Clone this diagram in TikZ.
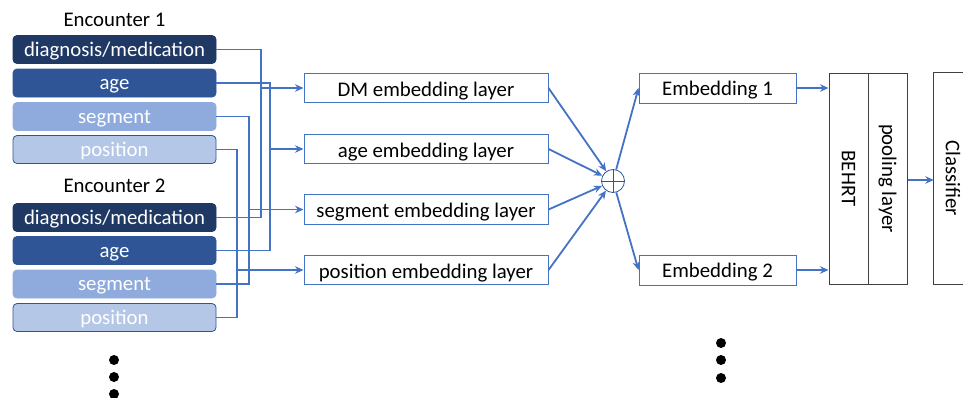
\documentclass[tikz,border=0pt]{standalone}
\usepackage{fontspec}
\setmainfont{Carlito}
\usetikzlibrary{arrows.meta}
\definecolor{cdm}{HTML}{203864}
\definecolor{cage}{HTML}{2F5597}
\definecolor{cseg}{HTML}{8FAADC}
\definecolor{cpos}{HTML}{B4C7E7}
\definecolor{wireblue}{HTML}{4472C4}
\definecolor{gline}{HTML}{404040}
\begin{document}
\begin{tikzpicture}[x=1pt,y=-1pt,
  bigfont/.style={font=\fontsize{20.8}{23}\selectfont},
  inbox/.style={bigfont, rounded corners=4pt, minimum width=203pt, minimum height=28pt, inner sep=0pt, text height=17pt, text depth=3.5pt, text=white, line width=0.8pt},
  dmbox/.style={inbox, fill=cdm, draw=cdm},
  agebox/.style={inbox, fill=cage, draw=cage},
  segbox/.style={inbox, fill=cseg, draw=cseg},
  posbox/.style={inbox, fill=cpos, draw=cage},
  enctext/.style={bigfont, inner sep=0pt},
  layerbox/.style={bigfont, draw=wireblue, line width=1pt, minimum width=244pt, minimum height=29.5pt, inner sep=0pt, text height=19pt, text depth=3pt},
  embbox/.style={bigfont, draw=wireblue, line width=1pt, minimum width=157pt, minimum height=30pt, inner sep=0pt, text height=18pt, text depth=3.5pt},
  gbox/.style={bigfont, draw=gline, line width=1pt, minimum width=39pt, minimum height=211pt, inner sep=0pt},
  wire/.style={draw=wireblue, line width=1.8pt},
  arr/.style={wire, -{Stealth[length=8.5pt,width=7.5pt]}},
  dot/.style={circle, fill=black, inner sep=0pt, minimum size=10pt}
]
\useasboundingbox (0,0) rectangle (963,397);

% Encounter labels
\node[enctext] (enc1) at (114.5,20) {Encounter 1};
\node[enctext] (enc2) at (114.5,186) {Encounter 2};

% Input boxes
\node[dmbox]  (dm1)  at (114.5,49.5)  {diagnosis/medication};
\node[agebox] (age1) at (114.5,83)    {age};
\node[segbox] (seg1) at (114.5,116.5) {segment};
\node[posbox] (pos1) at (114.5,149.5) {position};
\node[dmbox]  (dm2)  at (114.5,217.5) {diagnosis/medication};
\node[agebox] (age2) at (114.5,250.5) {age};
\node[segbox] (seg2) at (114.5,284)   {segment};
\node[posbox] (pos2) at (114.5,317.5) {position};

% Embedding layers
\node[layerbox] (dml)  at (426,88)    {DM embedding layer};
\node[layerbox] (agel) at (426,149)   {age embedding layer};
\node[layerbox] (segl) at (426,209.5) {segment embedding layer};
\node[layerbox] (posl) at (426,270)   {position embedding layer};

% Bus junctions
\coordinate (bdm)  at (261,88);
\coordinate (bage) at (270,149);
\coordinate (bseg) at (249,209.5);
\coordinate (bpos) at (237,270);

\draw[wire] (dm1.east) -| (bdm);
\draw[wire] (dm2.east) -| (bdm);
\draw[wire] (age1.east) -| (bage);
\draw[wire] (age2.east) -| (bage);
\draw[wire] (seg1.east) -| (bseg);
\draw[wire] (seg2.east) -| (bseg);
\draw[wire] (pos1.east) -| (bpos);
\draw[wire] (pos2.east) -| (bpos);
\draw[arr] (bdm) -- (dml.west);
\draw[arr] (bage) -- (agel.west);
\draw[arr] (bseg) -- (segl.west);
\draw[arr] (bpos) -- (posl.west);

% Sum
\node[circle, draw=cage, line width=0.8pt, minimum size=23pt, inner sep=0pt] (plus) at (613,181) {};
\draw[cage, line width=0.8pt] (plus.north) -- (plus.south) (plus.west) -- (plus.east);

\draw[arr] (dml.east) -- (plus);
\draw[arr] (agel.east) -- (plus);
\draw[arr] (segl.east) -- (plus);
\draw[arr] (posl.east) -- (plus);

% Embeddings
\node[embbox] (e1) at (717.5,88)  {Embedding 1};
\node[embbox] (e2) at (717.5,270) {Embedding 2};
\draw[arr] (plus) -- (e1.west);
\draw[arr] (plus) -- (e2.west);

% BEHRT, pooling, classifier
\node[gbox] (behrt) at (848.5,178.5) {\rotatebox{-90}{BEHRT}};
\node[gbox] (pool)  at (887.5,178.5) {\rotatebox{-90}{pooling layer}};
\node[bigfont, minimum width=38pt, minimum height=211pt, inner sep=0pt] (cls) at (953,178.5) {\rotatebox{-90}{Classifier}};
\draw[gline, line width=1pt] (cls.north west) ++(30,0) -- (cls.north west) -- (cls.south west) -- ++(30,0);

\draw[arr] (e1.east) -- (e1.east -| behrt.west);
\draw[arr] (e2.east) -- (e2.east -| behrt.west);
\draw[arr] (pool.east |- 0,180) -- (cls.west |- 0,180);

% Ellipsis dots
\node[dot] (ld1) at (114,360) {};
\node[dot] (ld2) at (114,377) {};
\node[dot] (ld3) at (114,394) {};
\node[dot] (rd1) at (721,343) {};
\node[dot] (rd2) at (721,360) {};
\node[dot] (rd3) at (721,378) {};
\end{tikzpicture}
\end{document}
